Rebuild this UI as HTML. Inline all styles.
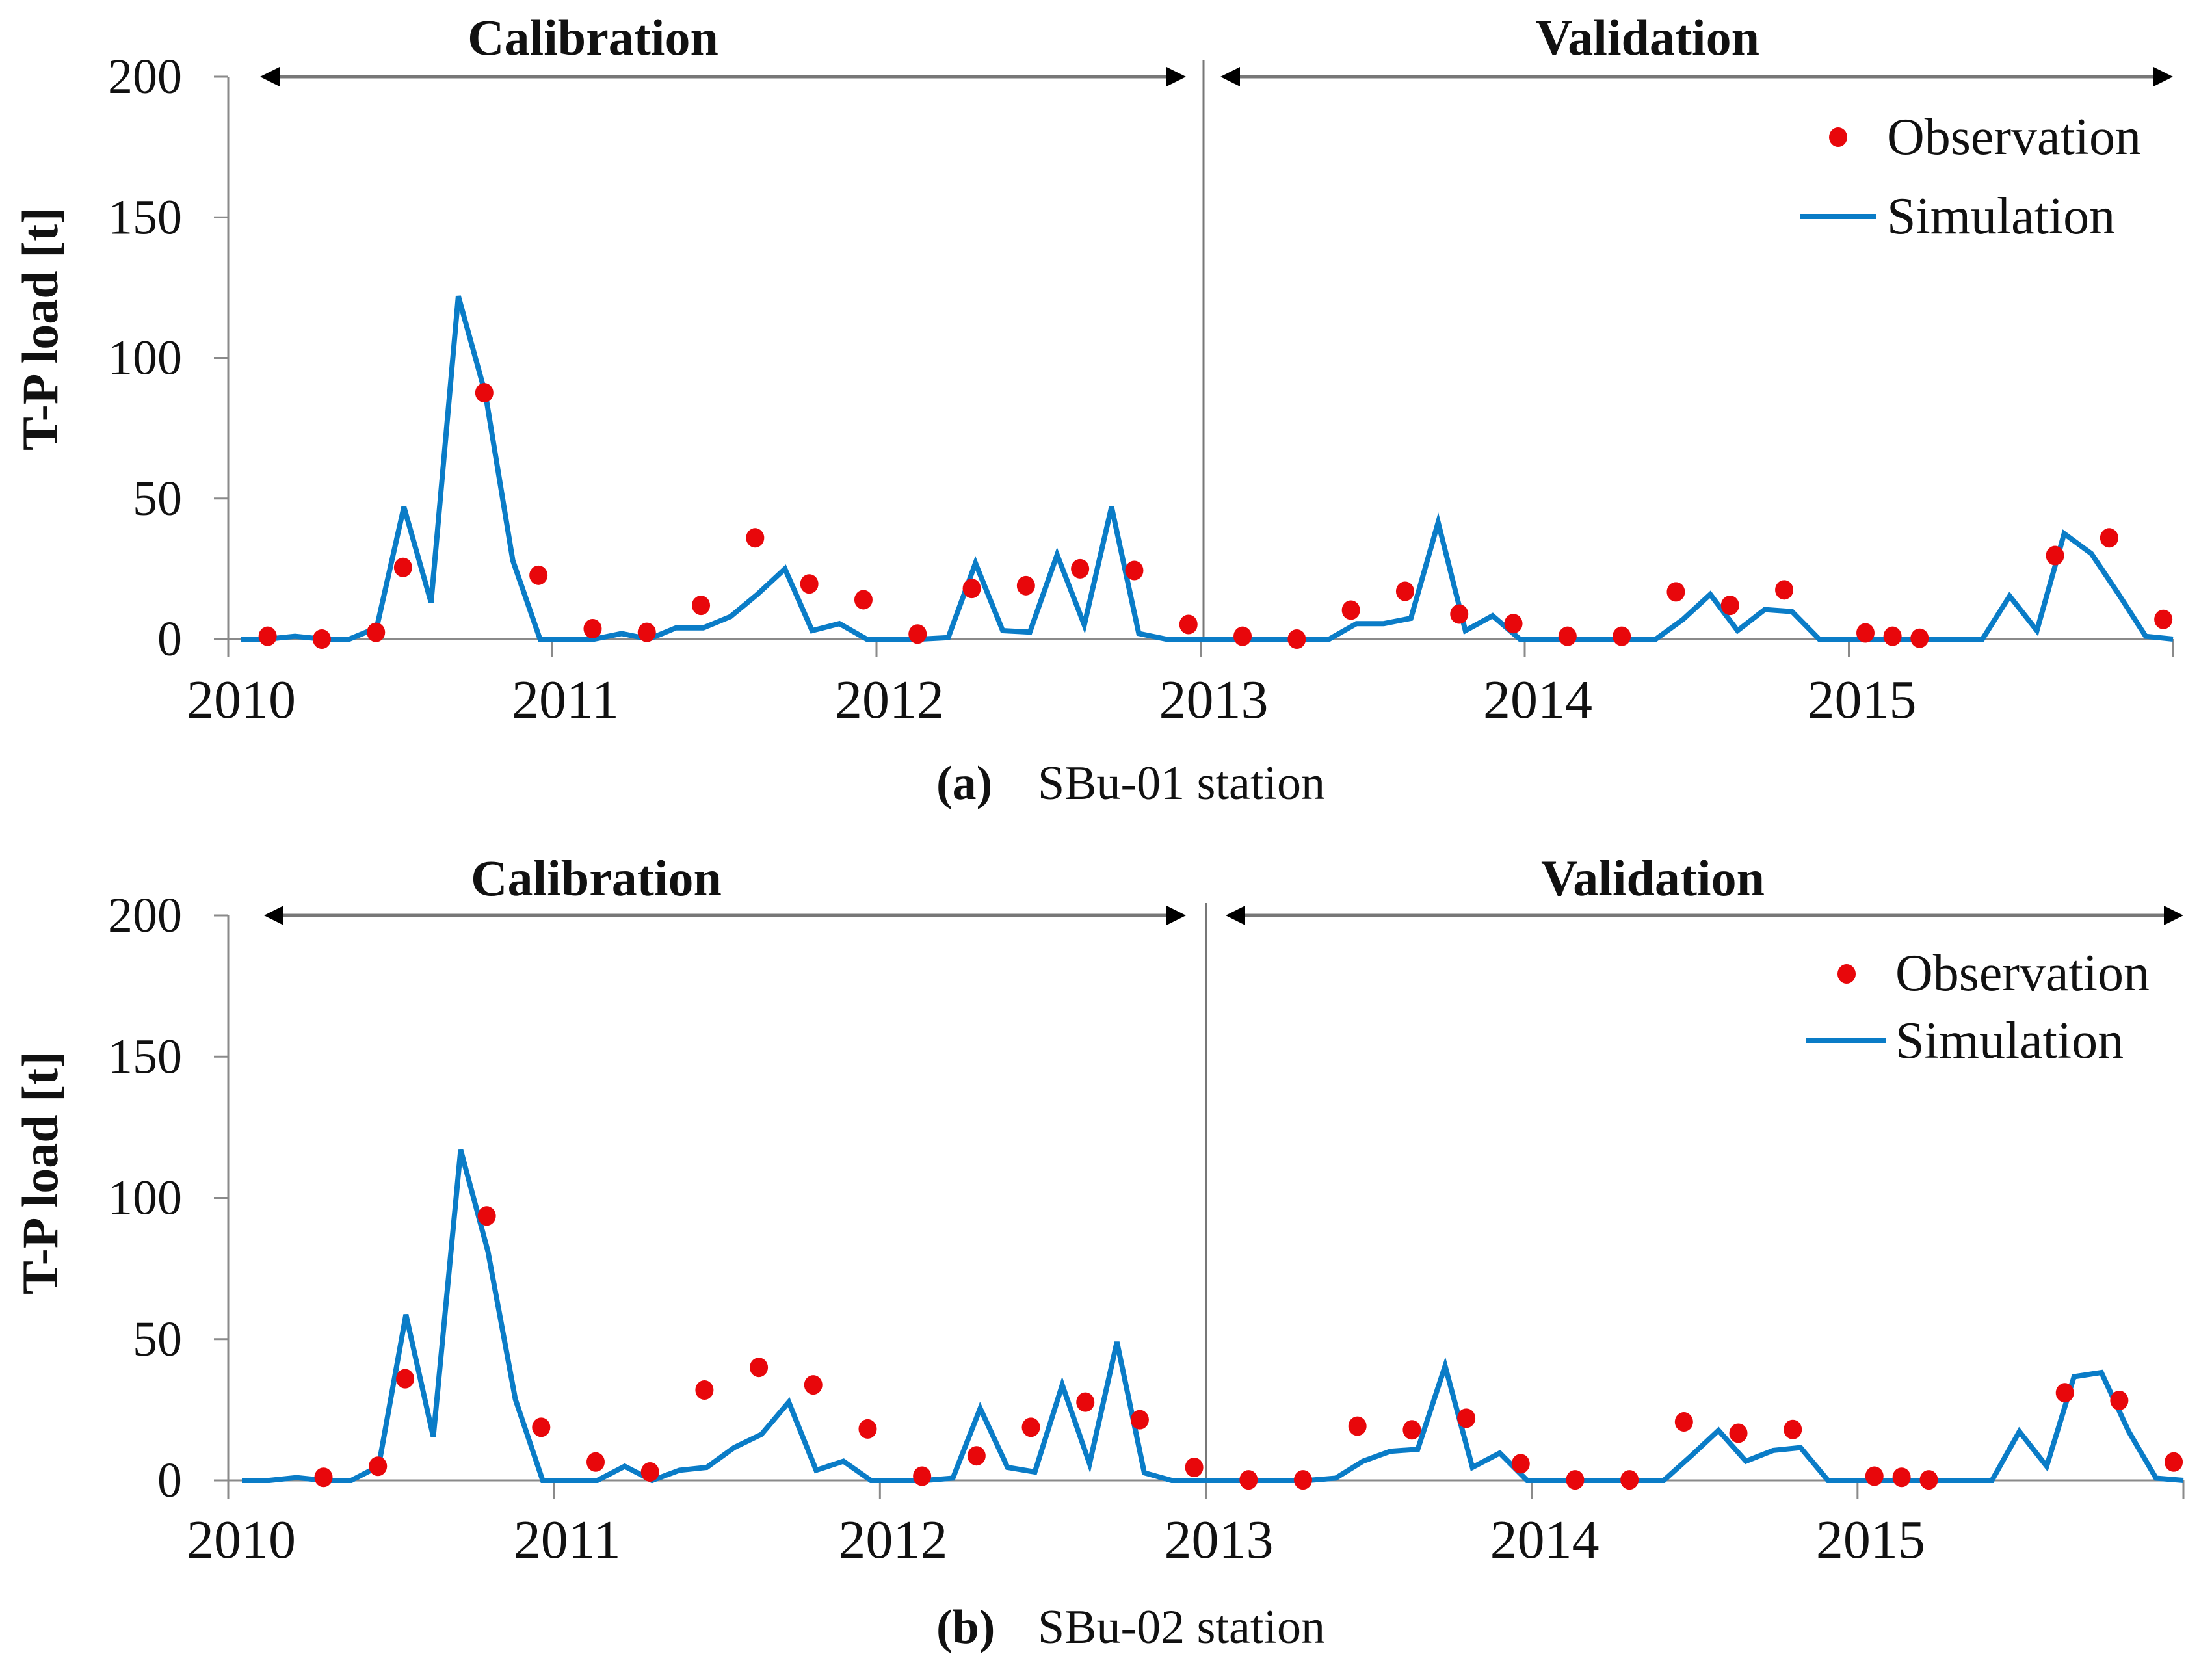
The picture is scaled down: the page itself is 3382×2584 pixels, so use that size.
<!DOCTYPE html>
<html><head><meta charset="utf-8"><style>
html,body{margin:0;padding:0;background:#fff;}
svg{display:block;}
svg text{font-family:"Liberation Serif","DejaVu Serif",serif;fill:#111;}
</style></head><body>
<svg id="chart" width="3382" height="2584" viewBox="0 0 3382 2584" xmlns="http://www.w3.org/2000/svg" font-family="'Liberation Serif', 'DejaVu Serif', serif"></svg>
<script>
// ---- data ----
const yTicks = [0, 50, 100, 150, 200];
const yearLabels = ["2010","2011","2012","2013","2014","2015"];
const simA = [0,0,1,0,0,4,47,13,122,87,28,0, 0,0,2,0,4,4,8,16,25,3,5.5,0, 0,0,0.5,27,3,2.5,30,5,47,2,0,0,
              0,0,0,0,0,5.5,5.5,7.4,41.5,3,8.3,0, 0,0,0,0,0,7,15.9,3,10.5,9.8,0,0, 0,0,0,0,0,15.3,3,37.5,30.4,16,1,0];
const obsAMonth = [1,3,5,6,9,11,13,15,17,19,21,23,25,27,29,31,33,35,37,39,41,43,45,47,49,51,53,55,57,60,61,62,67,69,71];
const obsAVal   = [1,0,2.4,25.5,87.6,22.7,3.7,2.4,12,36,19.6,14,1.8,18,19,25,24.4,5.2,1,0,10.3,17,8.9,5.5,1,1,16.8,12,17.5,2.2,1,0.3,29.7,36,7];
const simB = [0,0,1,0,0,5,58.7,15.4,117,81,28.7,0, 0,0,5,0,3.6,4.6,11.6,16.3,27.7,3.6,6.8,0, 0,0,0.8,25.5,4.6,3,33.8,5.9,49,2.7,0,0,
              0,0,0,0,0.8,6.8,10.3,11,40.5,4.6,9.7,0, 0,0,0,0,0,8.7,17.7,6.8,10.6,11.6,0,0, 0,0,0,0,0,17.3,5,36.7,38.2,17.3,0.8,0];
const obsBMonth = [3,5,6,9,11,13,15,17,19,21,23,25,27,29,31,33,35,37,39,41,43,45,47,49,51,53,55,57,60,61,62,67,69,71];
const obsBVal   = [1.1,5,36,93.6,18.8,6.5,3,32,40,33.8,18.2,1.5,8.7,18.8,27.7,21.5,4.6,0.2,0.2,19.2,17.9,22,5.9,0.2,0.2,20.7,16.7,18,1.5,1.1,0.2,31,28.3,6.5];

const NS = "http://www.w3.org/2000/svg";
const svg = document.getElementById('chart');
const FF = "'Liberation Serif', 'DejaVu Serif', serif";
function mk(tag, attrs, parent){
  const e = document.createElementNS(NS, tag);
  for (const k in attrs) e.setAttribute(k, attrs[k]);
  if (tag === 'text') e.setAttribute('font-family', FF);
  (parent||svg).appendChild(e);
  return e;
}

const panels = [
  {id:'a', sim:simA, om:obsAMonth, ov:obsAVal, x0:351, x1:3342, y0:983, y200:118, first:370,
   titleY:84, arrowY:118, calL:400, calR:1824, valL:1877, valR:3342, calX:912, valX:2534, divX:1851, divTop:92,
   legDot:[2827,211], legObsText:[2902,237], legLine:[2768,2886,333], legSimText:[2902,359],
   ylabY:506, xlabY:1104, capY:1229, capTag:'(a)', capText:'SBu-01 station'},
  {id:'b', sim:simB, om:obsBMonth, ov:obsBVal, x0:351, x1:3358, y0:2277, y200:1408, first:372,
   titleY:1377, arrowY:1408, calL:406, calR:1824, valL:1885, valR:3358, calX:917, valX:2542, divX:1855, divTop:1389,
   legDot:[2840,1498], legObsText:[2915,1523], legLine:[2778,2900,1601], legSimText:[2915,1627],
   ylabY:1804, xlabY:2396, capY:2527, capTag:'(b)', capText:'SBu-02 station'}
];

panels.forEach(p => {
  const g = mk('g', {});
  
  
  const yScale = v => p.y0 - (v/200)*(p.y0 - p.y200);
  const yearW = (p.x1 - p.x0)/6;
  const xYear = i => p.x0 + i*yearW;
  const monthStep = (p.x1 - p.first)/71;
  const xMonth = m => p.first + m*monthStep;
  const xObs = m => p.first + m*monthStep*0.995;

  const ya = mk('line', {x1:p.x0, y1:p.y200, x2:p.x0, y2:p.y0+28, stroke:'#8a8a8a','stroke-width':3}, g);
  
  
  yTicks.forEach(t => {
    const y = yScale(t);
    const tk = mk('line', {x1:p.x0-22, y1:y, x2:p.x0, y2:y, stroke:'#8a8a8a','stroke-width':3}, g);
    
    
    const lb = mk('text', {x:280, y:y+25, 'text-anchor':'end','font-size':76}, g);
    lb.textContent = t;
    
    
  });
  const xa = mk('line', {x1:p.x0, y1:p.y0, x2:p.x1, y2:p.y0, stroke:'#8a8a8a','stroke-width':3}, g);
  
  
  for (let i=0;i<=6;i++){
    const tk = mk('line', {x1:xYear(i), y1:p.y0, x2:xYear(i), y2:p.y0+28, stroke:'#8a8a8a','stroke-width':3}, g);
    
    
  }
  yearLabels.forEach((lab,i) => {
    const t = mk('text', {x:xYear(i)+20, y:p.xlabY, 'text-anchor':'middle','font-size':84}, g);
    t.textContent = lab;
    
    
  });
  const yt = mk('text', {x:0, y:0, 'text-anchor':'middle','font-size':78,'font-weight':'bold',
    transform:`translate(${88},${p.ylabY}) rotate(-90)`}, g);
  yt.textContent = 'T-P load [t]';
  
  

  const dv = mk('line', {x1:p.divX, y1:p.divTop, x2:p.divX, y2:p.y0, stroke:'#777','stroke-width':3}, g);
  
  

  [[p.calL,p.calR,'calibration-arrow'],[p.valL,p.valR,'validation-arrow']].forEach(a => {
    const ag = mk('g', {}, g);
    
    
    mk('line', {x1:a[0]+20, y1:p.arrowY, x2:a[1]-20, y2:p.arrowY, stroke:'#777','stroke-width':5}, ag);
    mk('polygon', {points:`${a[0]},${p.arrowY} ${a[0]+30},${p.arrowY-15} ${a[0]+30},${p.arrowY+15}`, fill:'#000'}, ag);
    mk('polygon', {points:`${a[1]},${p.arrowY} ${a[1]-30},${p.arrowY-15} ${a[1]-30},${p.arrowY+15}`, fill:'#000'}, ag);
  });
  const ct = mk('text', {x:p.calX, y:p.titleY, 'text-anchor':'middle','font-size':78,'font-weight':'bold'}, g);
  ct.textContent = 'Calibration';
  
  
  const vt = mk('text', {x:p.valX, y:p.titleY, 'text-anchor':'middle','font-size':78,'font-weight':'bold'}, g);
  vt.textContent = 'Validation';
  
  

  const pts = p.sim.map((v,i) => `${xMonth(i).toFixed(1)},${yScale(v).toFixed(1)}`).join(' ');
  const sl = mk('polyline', {points:pts, fill:'none', stroke:'#0a7cc7','stroke-width':8,'stroke-linejoin':'miter'}, g);
  
  

  p.om.forEach((m,i) => {
    const c = mk('ellipse', {cx:xObs(m), cy:yScale(p.ov[i]), rx:14, ry:15, fill:'#e8070b'}, g);
    
    
  });

  const lg = mk('g', {}, g);
  
  
  const ld = mk('ellipse', {cx:p.legDot[0], cy:p.legDot[1], rx:14, ry:15, fill:'#e8070b'}, lg);
  
  
  const lo = mk('text', {x:p.legObsText[0], y:p.legObsText[1], 'font-size':80}, lg);
  lo.textContent = 'Observation';
  
  
  const ll = mk('line', {x1:p.legLine[0], y1:p.legLine[2], x2:p.legLine[1], y2:p.legLine[2], stroke:'#0a7cc7','stroke-width':8}, lg);
  
  
  const ls = mk('text', {x:p.legSimText[0], y:p.legSimText[1], 'font-size':80}, lg);
  ls.textContent = 'Simulation';
  
  

  const cap = mk('text', {x:1440, y:p.capY, 'font-size':74}, g);
  
  
  const t1 = mk('tspan', {'font-weight':'bold'}, cap);
  t1.textContent = p.capTag;
  const t2 = mk('tspan', {x:1596}, cap);
  t2.textContent = p.capText;
});
</script>
</body></html>
